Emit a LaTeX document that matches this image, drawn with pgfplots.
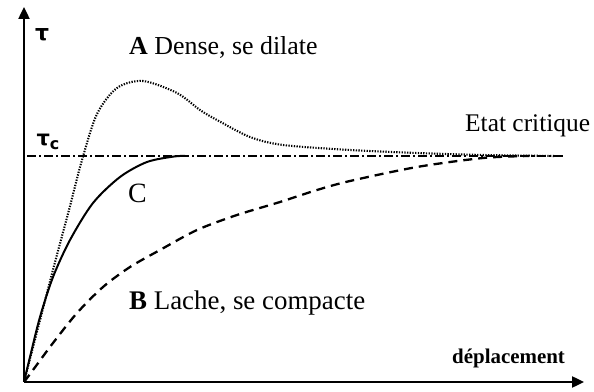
\documentclass[border=0pt]{standalone}
\usepackage{pgfplots}
\pgfplotsset{compat=1.18}
\usepackage{fontspec}
\setmainfont{Liberation Serif}
\newfontfamily\symfont{DejaVu Sans}
\usetikzlibrary{arrows.meta}

% curve A: dense soil, dilates (peak then back to critical state)
\pgfplotstableread{
x y
0 0
15 58
30 116
45 172
58 222
73 268
93 294
119 301
153 289
176 272
193 262
226 245
259 237
326 232
393 229
459 227
531 226
}\curveA

% curve B: loose soil, compacts
\pgfplotstableread{
x y
0 0
9 12
29 39
53 69
79 95
106 115
136 132
173 152
213 167
256 180
293 192
326 201
393 215
459 224
505 226
}\curveB

% curve C
\pgfplotstableread{
x y
0 0
6 25
16 65
29 105
46 142
69 179
96 205
123 220
150 225.5
161 226
}\curveC

\begin{document}
\begin{tikzpicture}
\begin{axis}[
  scale only axis,
  width=594bp, height=392bp,
  xmin=-24, xmax=570, ymin=-10, ymax=382,
  hide axis,
  clip=false,
]
\path (axis cs:-24,-10) rectangle (axis cs:570,382);

% axes with arrows
\draw[line width=2.4pt, -{Triangle[length=12bp,width=11bp]}] (axis cs:0,0) -- (axis cs:0,375);
\draw[line width=2.4pt, -{Triangle[length=12bp,width=11bp]}] (axis cs:0,0) -- (axis cs:560,0);

% critical state line
\addplot[black, line width=1.2pt, dash pattern=on 9bp off 3bp on 2bp off 3bp] coordinates {(3,226) (540,226)};

\addplot[black, line width=2.1pt, dash pattern=on 1.3bp off 1.4bp, smooth] table {\curveA};
\addplot[black, line width=2.3pt, dash pattern=on 9bp off 6bp, smooth] table {\curveB};
\addplot[black, line width=2pt, smooth] table {\curveC};

% labels
\node[font=\symfont\bfseries\fontsize{22}{24}\selectfont] at (axis cs:18,347) {τ};
\node[font=\symfont\bfseries\fontsize{21}{24}\selectfont] at (axis cs:24,240) {τ\raisebox{-4bp}{\fontsize{16}{18}\selectfont c}};
\node[anchor=base west, inner sep=0pt, font=\fontsize{26}{28}\selectfont] at (axis cs:105,327) {\textbf{A} Dense, se dilate};
\node[anchor=base west, inner sep=0pt, font=\fontsize{25.5}{28}\selectfont] at (axis cs:441,250) {Etat critique};
\node[anchor=base west, inner sep=0pt, font=\fontsize{28}{30}\selectfont] at (axis cs:104,179) {C};
\node[anchor=base west, inner sep=0pt, font=\fontsize{27}{30}\selectfont] at (axis cs:105,72) {\textbf{B} Lache, se compacte};
\node[anchor=base west, inner sep=0pt, font=\bfseries\fontsize{21}{24}\selectfont] at (axis cs:428,19) {déplacement};
\end{axis}
\end{tikzpicture}
\end{document}
